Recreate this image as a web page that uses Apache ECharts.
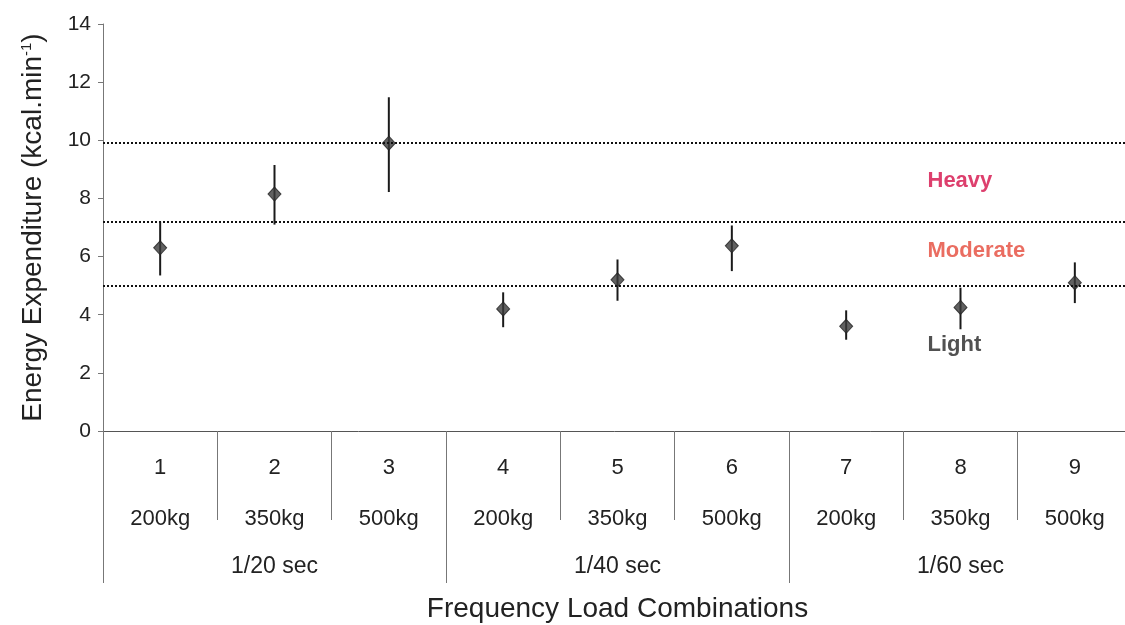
<!DOCTYPE html>
<html>
<head>
<meta charset="utf-8">
<script src="https://cdn.jsdelivr.net/npm/echarts@6/dist/echarts.min.js"></script>
<style>
html,body{margin:0;padding:0;background:#fff;}
#chart{width:1125px;height:625px;}
</style>
</head>
<body>
<div id="chart"></div>
<script>
// ---- data ----
var categories = ['1', '2', '3', '4', '5', '6', '7', '8', '9'];
var loads = ['200kg', '350kg', '500kg', '200kg', '350kg', '500kg', '200kg', '350kg', '500kg'];
var frequencies = ['1/20 sec', '1/40 sec', '1/60 sec'];
var means = [6.3, 8.15, 9.9, 4.2, 5.2, 6.37, 3.6, 4.25, 5.1];
var upper = [7.2, 9.15, 11.48, 4.77, 5.9, 7.07, 4.15, 4.93, 5.8];
var lower = [5.35, 7.1, 8.22, 3.57, 4.48, 5.5, 3.14, 3.5, 4.4];
var thresholds = [9.9, 7.2, 5.0];
var zoneNames = ['Heavy', 'Moderate', 'Light'];
var zoneValues = [8.6, 6.2, 2.95];
var zoneCategory = '8';
var yTicks = [0, 2, 4, 6, 8, 10, 12, 14];

var chart = echarts.init(document.getElementById('chart'), null, {renderer: 'canvas'});

var errData = categories.map(function (c, i) { return [i, lower[i], upper[i]]; });
var meanData = categories.map(function (c, i) { return [c, means[i]]; });
var zoneColors = ['#d40f48', '#e5483a', '#262626'];
var zoneData = zoneNames.map(function (n, i) {
  return {
    value: [zoneCategory, zoneValues[i]],
    label: {formatter: n, color: zoneColors[i]}
  };
});

var font = 'Liberation Sans, Arial, sans-serif';

var option = {
  backgroundColor: '#ffffff',
  animation: false,
  grid: {left: 103, top: 24, width: 1029, height: 407, outerBoundsMode: 'none', containLabel: false},
  xAxis: [
    {
      type: 'category',
      data: categories,
      position: 'bottom',
      axisLine: {show: true, lineStyle: {color: '#555', width: 1}},
      axisTick: {show: true, inside: false, length: 89, lineStyle: {color: '#777', width: 1}},
      axisLabel: {margin: 26, fontSize: 22, color: '#222', fontFamily: font},
      splitLine: {show: false},
      name: 'Frequency Load Combinations',
      nameLocation: 'middle',
      nameGap: 164,
      nameTextStyle: {fontSize: 28, color: '#222', fontFamily: font}
    },
    {
      type: 'category',
      data: loads,
      position: 'bottom',
      gridIndex: 0,
      axisLine: {show: false},
      axisTick: {show: false},
      axisLabel: {margin: 77, fontSize: 22, color: '#222', fontFamily: font, interval: 0},
      splitLine: {show: false}
    },
    {
      type: 'category',
      data: frequencies,
      position: 'bottom',
      gridIndex: 0,
      axisLine: {show: false},
      axisTick: {show: true, length: 152, interval: 0, lineStyle: {color: '#777', width: 1}},
      axisLabel: {margin: 124, fontSize: 23, color: '#222', fontFamily: font, interval: 0},
      splitLine: {show: false}
    }
  ],
  yAxis: {
    type: 'value',
    min: yTicks[0],
    max: yTicks[yTicks.length - 1],
    interval: 2,
    axisLine: {show: true, lineStyle: {color: '#777', width: 1}},
    axisTick: {show: true, length: 5, lineStyle: {color: '#777'}},
    axisLabel: {fontSize: 21, color: '#222', margin: 12, fontFamily: font},
    splitLine: {show: false},
    name: 'Energy Expenditure (kcal.min{sup|-1})',
    nameLocation: 'middle',
    nameGap: 56,
    nameTextStyle: {
      fontSize: 28, color: '#222', fontFamily: font,
      rich: {sup: {fontSize: 15, color: '#222', fontFamily: font, verticalAlign: 'top', padding: [0, 0, 12, 0]}}
    }
  },
  series: [
    {
      type: 'custom',
      xAxisIndex: 0,
      data: errData,
      z: 3,
      renderItem: function (params, api) {
        var x = api.value(0);
        var lo = api.coord([x, api.value(1)]);
        var hi = api.coord([x, api.value(2)]);
        return {
          type: 'line',
          shape: {x1: lo[0], y1: lo[1], x2: hi[0], y2: hi[1]},
          style: {stroke: '#1a1a1a', lineWidth: 2}
        };
      }
    },
    {
      type: 'scatter',
      xAxisIndex: 0,
      data: meanData,
      symbol: 'diamond',
      symbolSize: [13, 14],
      itemStyle: {color: '#3a3a3a', borderColor: '#222', borderWidth: 1},
      z: 4,
      markLine: {
        silent: true,
        symbol: 'none',
        label: {show: false},
        lineStyle: {color: '#111', type: [2, 2], width: 2},
        data: thresholds.map(function (t) { return {yAxis: t}; })
      }
    },
    {
      type: 'scatter',
      xAxisIndex: 0,
      data: zoneData,
      symbolSize: 0,
      silent: true,
      label: {
        show: true,
        position: 'inside',
        align: 'left',
        offset: [-33, 0],
        fontSize: 22,
        fontWeight: 'bold',
        fontFamily: font
      }
    }
  ]
};
chart.setOption(option);
</script>
</body>
</html>
